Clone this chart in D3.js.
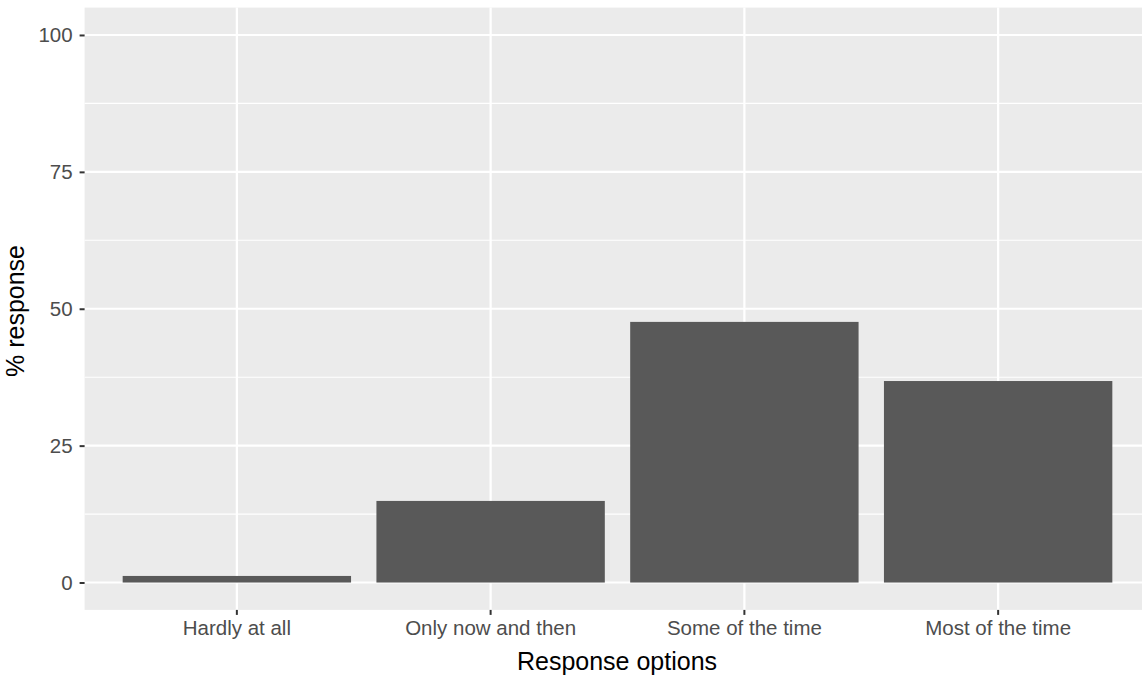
<!DOCTYPE html>
<html>
<head>
<meta charset="utf-8">
<script src="https://cdn.jsdelivr.net/npm/d3@7"></script>
<style>
  html, body { margin: 0; padding: 0; background: #ffffff; }
  svg { display: block; font-family: "Liberation Sans", Arial, sans-serif; }
</style>
</head>
<body>
<svg id="chart" width="1142" height="675"></svg>
<script>
const categories = ["Hardly at all", "Only now and then", "Some of the time", "Most of the time"];
const values = [1.2, 14.9, 47.6, 36.8];
const yTicks = [0, 25, 50, 75, 100];
const yMinor = [12.5, 37.5, 62.5, 87.5];
const xTitle = "Response options";
const yTitle = "% response";

const svg = d3.select("#chart");
const panel = { left: 84.6, right: 1150.4, top: 7.6, bottom: 609.9 };

const step = (panel.right - panel.left) / 4.2;
const x = d3.scaleBand()
  .domain(categories)
  .range([panel.left + 0.6 * step - step / 2, panel.right - 0.6 * step + step / 2])
  .paddingInner(0.1).paddingOuter(0.05);
const y = d3.scaleLinear().domain([-5, 105]).range([panel.bottom, panel.top]);

// panel background
svg.append("rect")
  .attr("x", panel.left).attr("y", panel.top)
  .attr("width", panel.right - panel.left).attr("height", panel.bottom - panel.top)
  .attr("fill", "#ebebeb");

// minor grid
svg.append("g").selectAll("line").data(yMinor).join("line")
  .attr("x1", panel.left).attr("x2", panel.right)
  .attr("y1", d => y(d)).attr("y2", d => y(d))
  .attr("stroke", "#ffffff").attr("stroke-width", 1.1);

// major grid
svg.append("g").selectAll("line").data(yTicks).join("line")
  .attr("x1", panel.left).attr("x2", panel.right)
  .attr("y1", d => y(d)).attr("y2", d => y(d))
  .attr("stroke", "#ffffff").attr("stroke-width", 2.2);
svg.append("g").selectAll("line").data(categories).join("line")
  .attr("x1", d => x(d) + x.bandwidth() / 2).attr("x2", d => x(d) + x.bandwidth() / 2)
  .attr("y1", panel.top).attr("y2", panel.bottom)
  .attr("stroke", "#ffffff").attr("stroke-width", 2.2);

// bars
svg.append("g").selectAll("rect").data(categories).join("rect")
  .attr("x", d => x(d))
  .attr("width", x.bandwidth())
  .attr("y", (d, i) => y(values[i]))
  .attr("height", (d, i) => y(0) - y(values[i]))
  .attr("fill", "#595959");

// y axis
const yAxis = d3.axisLeft(y).tickValues(yTicks).tickSize(5).tickPadding(7);
const gy = svg.append("g").attr("transform", `translate(${panel.left},0)`).call(yAxis);
gy.select(".domain").remove();
gy.selectAll(".tick line").attr("stroke", "#333333").attr("stroke-width", 2);
gy.selectAll(".tick text").attr("fill", "#4d4d4d").attr("font-size", 20.5)
  .attr("font-family", "Liberation Sans, Arial, sans-serif");

// x axis
const xAxis = d3.axisBottom(x).tickSize(5).tickPadding(6);
const gx = svg.append("g").attr("transform", `translate(0,${panel.bottom})`).call(xAxis);
gx.select(".domain").remove();
gx.selectAll(".tick line").attr("stroke", "#333333").attr("stroke-width", 2);
gx.selectAll(".tick text").attr("fill", "#4d4d4d").attr("font-size", 20.5)
  .attr("font-family", "Liberation Sans, Arial, sans-serif");

// titles
svg.append("text")
  .attr("x", 617).attr("y", 670)
  .attr("text-anchor", "middle")
  .attr("font-size", 25).attr("fill", "#000000")
  .text(xTitle);
svg.append("text")
  .attr("transform", "translate(24,311) rotate(-90)")
  .attr("text-anchor", "middle")
  .attr("font-size", 25).attr("fill", "#000000")
  .text(yTitle);
</script>
</body>
</html>
